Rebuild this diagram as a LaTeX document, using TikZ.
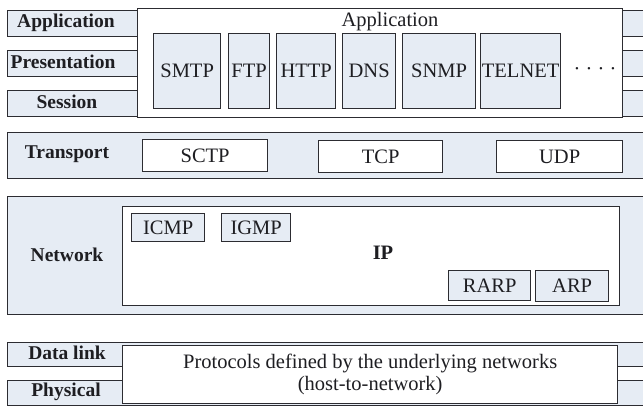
\documentclass[tikz,border=0pt]{standalone}
\usepackage{fontspec}
\setmainfont{Liberation Serif}
\definecolor{barfill}{HTML}{E6ECF4}
\definecolor{edge}{HTML}{2C2C31}
\definecolor{ink}{HTML}{1E1E22}
\begin{document}
\begin{tikzpicture}[x=1pt,y=-1pt,
  every node/.style={text=ink},
  layer/.style={draw=edge, line width=1.4pt, fill=barfill, anchor=north west, inner sep=0pt, minimum width=650},
  panel/.style={draw=edge, line width=1.4pt, fill=white, anchor=north west, inner sep=0pt},
  proto/.style={draw=edge, line width=1.3pt, fill=barfill, anchor=north west, inner sep=0pt, font=\fontsize{20.5}{22}\selectfont},
  plain/.style={draw=edge, line width=1.3pt, fill=white, anchor=north west, inner sep=0pt, font=\fontsize{20.5}{22}\selectfont},
  txt/.style={inner sep=0pt, font=\fontsize{20.5}{22}\selectfont},
  lbl/.style={inner sep=0pt, font=\bfseries\fontsize{19.5}{22}\selectfont}]
\clip (0,0) rectangle (643,408);
\fill[white] (0,0) rectangle (643,408);

% application, presentation and session layers
\node[layer, minimum height=26] (appbar)  at (7,10) {};
\node[layer, minimum height=26] (presbar) at (7,50) {};
\node[layer, minimum height=26] (sessbar) at (7,90) {};
\node[lbl] (applbl)  at (66,23) {Application};
\node[lbl] (preslbl) at (63,62) {Presentation};
\node[lbl] (sesslbl) at (67,102) {Session};

\node[panel, minimum width=485, minimum height=109] (apppanel) at (137,8) {};
\node[txt] (apptitle) at (390,22) {Application};
\node[proto, minimum width=67, minimum height=75] (smtp)   at (153,33) {SMTP};
\node[proto, minimum width=41, minimum height=75] (ftp)    at (228,33) {FTP};
\node[proto, minimum width=59, minimum height=75] (http)   at (276,33) {HTTP};
\node[proto, minimum width=53, minimum height=75] (dns)    at (342,33) {DNS};
\node[proto, minimum width=73, minimum height=75] (snmp)   at (402,33) {SNMP};
\node[proto, minimum width=80, minimum height=75] (telnet) at (480,33) {TELNET};
\node[txt] (more) at (595,71) {· · · ·};

% transport layer
\node[layer, minimum height=46] (transbar) at (7,132) {};
\node[lbl] (translbl) at (67,154) {Transport};
\node[plain, minimum width=125, minimum height=32] (sctp) at (142,139) {SCTP};
\node[plain, minimum width=124, minimum height=32] (tcp)  at (318,140) {TCP};
\node[plain, minimum width=126, minimum height=32] (udp)  at (496,140) {UDP};

% network layer
\node[layer, minimum height=118] (netbar) at (7,196) {};
\node[lbl] (netlbl) at (67,255) {Network};
\node[panel, minimum width=497, minimum height=99] (ippanel) at (122,206) {};
\node[lbl, font=\bfseries\fontsize{20.5}{22}\selectfont] (ip) at (383,253) {IP};
\node[proto, minimum width=73, minimum height=28] (icmp) at (131,213) {ICMP};
\node[proto, minimum width=69, minimum height=28] (igmp) at (221,213) {IGMP};
\node[proto, minimum width=82, minimum height=30] (rarp) at (448,270) {RARP};
\node[proto, minimum width=73, minimum height=31] (arp)  at (535,270) {ARP};

% data link and physical layers
\node[layer, minimum height=24] (linkbar) at (7,342) {};
\node[layer, minimum height=25] (physbar) at (7,380) {};
\node[lbl] (linklbl) at (67,353) {Data link};
\node[lbl] (physlbl) at (66,392) {Physical};
\node[panel, minimum width=495, minimum height=58, align=center,
      font=\fontsize{20.5}{22}\selectfont] (hostnet) at (122,345)
      {Protocols defined by the underlying networks\\(host-to-network)};
\end{tikzpicture}
\end{document}
